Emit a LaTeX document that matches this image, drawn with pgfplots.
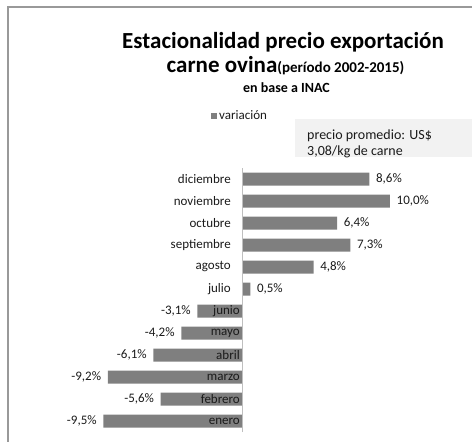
\documentclass[border=0pt]{standalone}
\usepackage{fontspec}
\setmainfont{Carlito}
\usepackage{pgfplots}
\pgfplotsset{compat=1.18}
\definecolor{barcol}{HTML}{7F7F7F}
\definecolor{txt}{HTML}{1A1A1A}
\begin{document}
\begin{tikzpicture}
\useasboundingbox (0pt,0pt) rectangle (472pt,-442pt);
% frame
\draw[black!40, line width=2pt] (8pt,-442pt) -- (8pt,-7pt) -- (473pt,-7pt);
% note box
\fill[black!5] (295pt,-119pt) rectangle (472pt,-157pt);
\node[anchor=base west, inner sep=0pt, font=\fontsize{14}{16}\selectfont, text=txt] at (307pt,-139pt) {precio promedio: US\$};
\node[anchor=base west, inner sep=0pt, font=\fontsize{14}{16}\selectfont, text=txt] at (307pt,-155pt) {3,08/kg de carne};
% titles
\node[anchor=base, inner sep=0pt, font=\bfseries\fontsize{23}{26}\selectfont, text=black] at (283pt,-48pt) {Estacionalidad precio exportación};
\node[anchor=base, inner sep=0pt, font=\bfseries\fontsize{23}{26}\selectfont, text=black] at (285.5pt,-72pt) {carne ovina{\fontsize{15}{17}\selectfont(período 2002-2015)}};
\node[anchor=base, inner sep=0pt, font=\bfseries\fontsize{14}{16}\selectfont, text=black] at (286.5pt,-92pt) {en base a INAC};

\begin{axis}[
  at={(96pt,-432pt)}, anchor=south west,
  scale only axis, width=294pt, height=264pt,
  xmin=-10, xmax=10, ymin=-0.5, ymax=11.5,
  xbar, bar width=13pt,
  axis x line=none, axis y line=middle,
  y axis line style={-, draw=black!25, line width=1pt},
  major tick length=0pt,
  ytick={6,...,11},
  yticklabels={julio,agosto,septiembre,octubre,noviembre,diciembre},
  yticklabel style={font=\fontsize{13}{15}\selectfont, text=txt, inner sep=0pt, xshift=-12pt},
  extra y ticks={0,...,5},
  extra y tick labels={enero,febrero,marzo,abril,mayo,junio},
  extra y tick style={yticklabel style={xshift=9pt}},
  point meta=x,
  nodes near coords={\pgfmathprintnumber[fixed,fixed zerofill,precision=1,use comma,assume math mode=true]{\pgfplotspointmeta}\%},
  nodes near coords style={font=\fontsize{13}{15}\selectfont, text=txt, inner sep=6.5pt},
  axis on top,
  clip=false,
  legend style={at={(0.49,1.197)}, anchor=center, draw=none, fill=none,
    font=\fontsize{13}{15}\selectfont, text=txt,
    /tikz/every even column/.append style={column sep=0pt}},
  legend image code/.code={\fill[barcol] (2pt,-3pt) rectangle (8pt,3pt);},
]
\addplot[fill=barcol, draw=none] coordinates {
  (-9.5,0) (-5.6,1) (-9.2,2) (-6.1,3) (-4.2,4) (-3.1,5)
  (0.5,6) (4.8,7) (7.3,8) (6.4,9) (10.0,10) (8.6,11)
};
\addlegendentry{variación}
\end{axis}
\end{tikzpicture}
\end{document}
